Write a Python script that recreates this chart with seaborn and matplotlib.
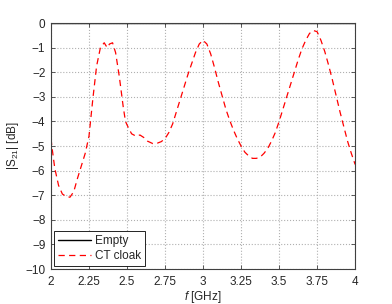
import numpy as np
import pandas as pd
import seaborn as sns
import matplotlib
matplotlib.use("Agg")
import matplotlib.pyplot as plt

# frequency samples [GHz] and |S21| [dB]
freq = [2.00, 2.01, 2.025, 2.05, 2.075, 2.10, 2.125, 2.15, 2.175, 2.20,
        2.225, 2.25, 2.275, 2.30, 2.325, 2.35, 2.37, 2.385, 2.405, 2.425,
        2.45, 2.475, 2.49, 2.505, 2.53, 2.56, 2.585, 2.61, 2.635, 2.67,
        2.70, 2.725, 2.75, 2.775, 2.80, 2.825, 2.85, 2.875, 2.90, 2.925,
        2.95, 2.975, 3.00, 3.025, 3.05, 3.075, 3.10, 3.125, 3.15, 3.175,
        3.20, 3.225, 3.25, 3.275, 3.30, 3.325, 3.35, 3.375, 3.40, 3.425,
        3.45, 3.475, 3.50, 3.525, 3.55, 3.575, 3.60, 3.625, 3.65, 3.675,
        3.70, 3.725, 3.75, 3.775, 3.80, 3.825, 3.85, 3.875, 3.90, 3.925,
        3.95, 3.975, 4.00]
ct_cloak = [-4.7, -5.2, -5.9, -6.6, -6.95, -7.05, -7.08, -6.85, -6.3, -5.8,
            -5.3, -4.6, -3.1, -1.75, -1.0, -0.8, -1.0, -0.85, -0.8, -1.2,
            -2.2, -3.4, -4.0, -4.2, -4.5, -4.6, -4.55, -4.65, -4.8, -4.9,
            -4.88, -4.82, -4.7, -4.45, -4.1, -3.6, -3.1, -2.6, -2.1, -1.65,
            -1.2, -0.85, -0.7, -0.85, -1.25, -1.8, -2.4, -2.95, -3.5, -3.95,
            -4.35, -4.7, -5.0, -5.25, -5.4, -5.5, -5.5, -5.45, -5.3, -5.1,
            -4.8, -4.45, -4.0, -3.5, -3.0, -2.5, -2.0, -1.5, -1.05, -0.7,
            -0.42, -0.3, -0.35, -0.7, -1.15, -1.7, -2.3, -2.95, -3.6, -4.2,
            -4.8, -5.3, -5.75]
empty = [0.0] * len(freq)

xticks = [2, 2.25, 2.5, 2.75, 3, 3.25, 3.5, 3.75, 4]
xticklabels = ["2", "2.25", "2.5", "2.75", "3", "3.25", "3.5", "3.75", "4"]
yticks = list(range(-10, 1))

df = pd.DataFrame({"f": freq, "Empty": empty, "CT cloak": ct_cloak})

sns.set_style("ticks")
plt.rcParams["font.family"] = ["Liberation Sans", "DejaVu Sans"]
plt.rcParams["mathtext.fontset"] = "custom"
plt.rcParams["mathtext.it"] = "Liberation Sans:italic"
plt.rcParams["mathtext.rm"] = "Liberation Sans"

fig = plt.figure(figsize=(3.92, 3.04), dpi=100)
ax = fig.add_axes([0.130, 0.115, 0.776, 0.809])

sns.lineplot(data=df, x="f", y="Empty", ax=ax, color="black", lw=1.0,
             label="Empty")
sns.lineplot(data=df, x="f", y="CT cloak", ax=ax, color="#ff0000", lw=0.9,
             label="CT cloak", linestyle=(0, (5, 3.5)))

ax.set_xlim(2, 4)
ax.set_ylim(-10, 0)
ax.set_xticks(xticks)
ax.set_xticklabels(xticklabels)
ax.set_yticks(yticks)
ax.grid(True, linestyle=":", color="#b0b0b0", lw=0.8)
ax.tick_params(direction="in", top=True, right=True, labelsize=8.5,
               length=3, width=0.6, color="#404040", pad=4)
ax.tick_params(axis="x", pad=5)
for sp in ax.spines.values():
    sp.set_color("#404040")
    sp.set_linewidth(0.8)

ax.set_xlabel("$f$ [GHz]", fontsize=8.5, labelpad=1)
ax.set_ylabel("|S$_{21}$| [dB]", fontsize=8.5, labelpad=3)

leg = ax.legend(loc="lower left", fontsize=8.5, frameon=True, fancybox=False,
                borderaxespad=0.25, handlelength=2.8, borderpad=0.35,
                labelspacing=0.25, handletextpad=0.3)
leg.get_frame().set_edgecolor("black")
leg.get_frame().set_linewidth(0.6)
leg.get_frame().set_alpha(1)

fig.savefig("out.png", dpi=100)
